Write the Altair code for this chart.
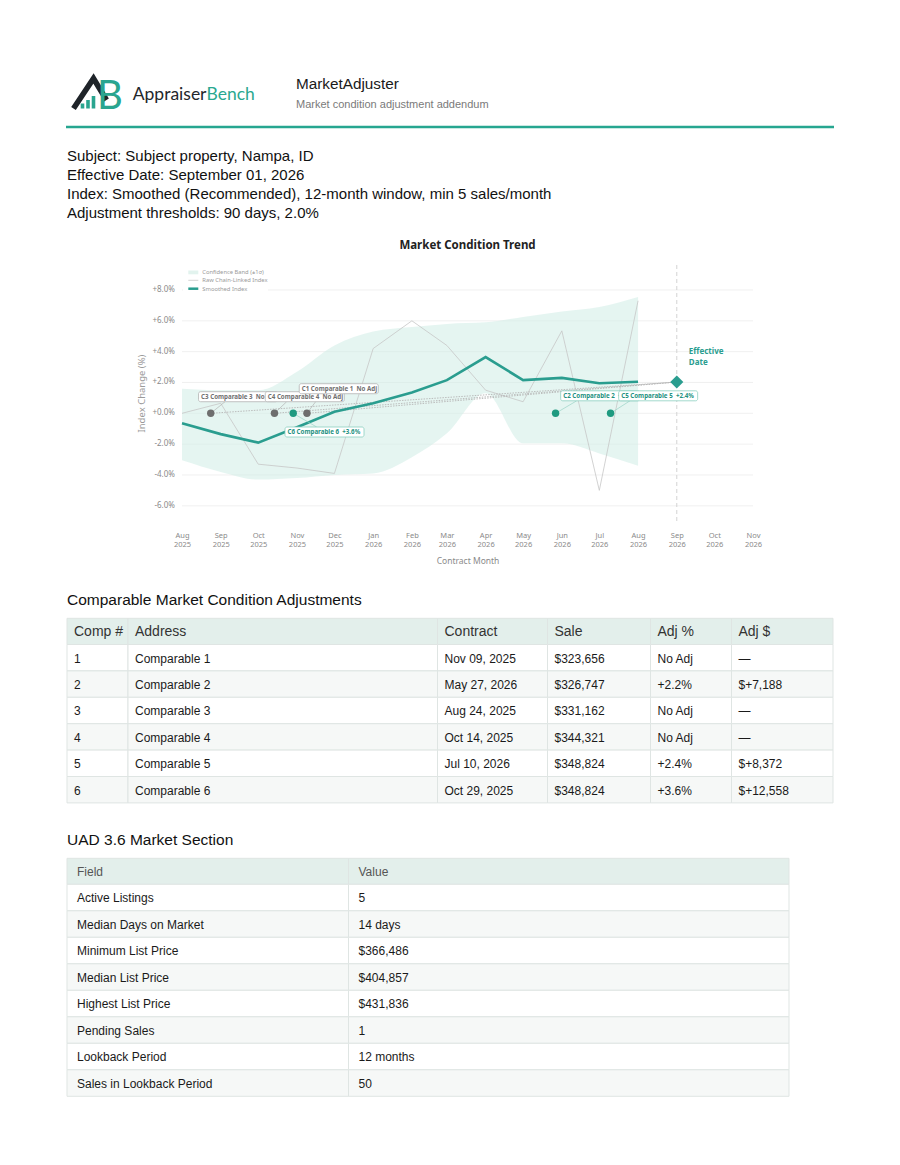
import altair as alt
import pandas as pd

# ---------------- chart data ----------------
MONTHS = ["2025-08-01", "2025-09-01", "2025-10-01", "2025-11-01", "2025-12-01",
          "2026-01-01", "2026-02-01", "2026-03-01", "2026-04-01", "2026-05-01",
          "2026-06-01", "2026-07-01", "2026-08-01"]
SMOOTHED = [-0.65, -1.35, -1.9, -0.9, 0.1, 0.65, 1.35, 2.15, 3.65, 2.15, 2.3, 1.95, 2.05]
RAW = [0.0, 0.65, -3.3, -3.55, -3.9, 4.2, 6.0, 4.4, 1.5, 0.75, 5.35, -5.0, 7.3]
BAND_UP = [1.6, 1.5, 1.5, 2.7, 4.4, 5.3, 5.6, 5.8, 5.9, 6.25, 6.6, 6.9, 7.55]
BAND_LO = [-3.05, -3.8, -4.3, -4.2, -4.0, -3.9, -2.85, -1.3, 1.3, -1.95, -1.95, -2.6, -3.4]

X_TICKS = ["2025-08-01", "2025-09-01", "2025-10-01", "2025-11-01", "2025-12-01",
           "2026-01-01", "2026-02-01", "2026-03-01", "2026-04-01", "2026-05-01",
           "2026-06-01", "2026-07-01", "2026-08-01", "2026-09-01", "2026-10-01",
           "2026-11-01"]
Y_TICKS = [-6, -4, -2, 0, 2, 4, 6, 8]

COMP_NUM = [1, 2, 3, 4, 5, 6]
COMP_ADDR = ["Comparable 1", "Comparable 2", "Comparable 3", "Comparable 4",
             "Comparable 5", "Comparable 6"]
COMP_CONTRACT = ["Nov 09, 2025", "May 27, 2026", "Aug 24, 2025", "Oct 14, 2025",
                 "Jul 10, 2026", "Oct 29, 2025"]
COMP_DATE = ["2025-11-09", "2026-05-27", "2025-08-24", "2025-10-14", "2026-07-10",
             "2025-10-29"]
COMP_SALE = ["$323,656", "$326,747", "$331,162", "$344,321", "$348,824", "$348,824"]
COMP_ADJ_PCT = ["No Adj", "+2.2%", "No Adj", "No Adj", "+2.4%", "+3.6%"]
COMP_ADJ_USD = ["\u2014", "$+7,188", "\u2014", "\u2014", "$+8,372", "$+12,558"]
COMP_INDEX = [0.0, 0.0, 0.0, 0.0, 0.0, 0.0]

EFFECTIVE_DATE = "2026-09-01"
EFFECTIVE_INDEX = 2.03

UAD_FIELDS = ["Active Listings", "Median Days on Market", "Minimum List Price",
              "Median List Price", "Highest List Price", "Pending Sales",
              "Lookback Period", "Sales in Lookback Period"]
UAD_VALUES = ["5", "14 days", "$366,486", "$404,857", "$431,836", "1",
              "12 months", "50"]

INFO_LINES = ["Subject: Subject property, Nampa, ID",
              "Effective Date: September 01, 2026",
              "Index: Smoothed (Recommended), 12-month window, min 5 sales/month",
              "Adjustment thresholds: 90 days, 2.0%"]
T1_HEAD = ["Comp #", "Address", "Contract", "Sale", "Adj %", "Adj $"]
T2_HEAD = ["Field", "Value"]

# ---------------- layout / style ----------------
PAGE_W = 880
P1_H = 257
MAIN_OFF = 174
MAIN_PLOT_W = 571
MAIN_H = 257
P3_H = 590
X_START, X_END = "2025-08-01", "2026-11-01"
Y_DOMAIN = [-7.05, 9.62]

TEAL = "#2a9d8f"
TEAL_PT = "#1f9a80"
GRAY_PT = "#6e6e6e"
CF = "Noto Sans"
PF = "Liberation Sans"

# label boxes relative to their point, in pixels
LABEL_DX = [-7.7, 5.1, -12.2, -9.2, 8.1, -8.2]
LABEL_DY = [-24.6, -17.5, -16.6, -16.6, -17.5, 18.7]
LEADER_DX = [22.4, 16, 26.5, 21.4, 11.3, 31.7]
LABEL_W, LABEL_H = 79, 10


def iso(ts):
    return ts.strftime("%Y-%m-%dT%H:%M:%SZ")


def dt(s):
    t = pd.Timestamp(s)
    return alt.DateTime(year=t.year, month=t.month, date=t.day, utc=True)


t_start, t_end = pd.Timestamp(X_START), pd.Timestamp(X_END)
ppd = MAIN_PLOT_W / (t_end - t_start).days
ppp = MAIN_H / (Y_DOMAIN[1] - Y_DOMAIN[0])

xs = alt.Scale(type="utc", domain=[dt(X_START), dt(X_END)],
               range=[MAIN_OFF, MAIN_OFF + MAIN_PLOT_W])
ys = alt.Scale(domain=Y_DOMAIN, nice=False, zero=False)
x_axis = alt.Axis(values=[dt(m) for m in X_TICKS],
                  labelExpr="[utcFormat(datum.value, '%b'), utcFormat(datum.value, '%Y')]",
                  title="Contract Month", ticks=False, domain=False, grid=False,
                  labelFlush=False, labelOverlap=False, labelPadding=9,
                  labelLineHeight=9, labelFontSize=7.5, labelColor="#8a8a8a",
                  labelFont=CF, titleFont=CF, titleFontSize=8.5,
                  titleFontWeight="normal", titleColor="#8a8a8a", titlePadding=9)


def X(f):
    return alt.X(f, type="temporal", scale=xs, axis=x_axis)


def Y(f):
    return alt.Y(f, type="quantitative", scale=ys, axis=None)


one = pd.DataFrame({"a": [0]})

# ---------------- panel 1: header ----------------
def ptext(s, x, y, **kw):
    kw.setdefault("align", "left")
    kw.setdefault("baseline", "alphabetic")
    return alt.Chart(one).mark_text(text=s, **kw).encode(x=alt.value(x), y=alt.value(y))


NX = alt.X("x:Q", scale=None, axis=None)
NY = alt.Y("y:Q", scale=None, axis=None)

chevron = alt.Chart(pd.DataFrame({"x": [65.5, 85.5, 98.5], "y": [100.5, 70.5, 92.0]})).mark_line(
    color="#1f2429", strokeWidth=5.5, strokeJoin="miter", strokeCap="butt").encode(x=NX, y=NY)
logo_bars = alt.Chart(pd.DataFrame({"x": [72.7, 78.2, 83.7], "x2": [76.3, 81.8, 87.3],
                                    "y": [95.5, 92.0, 88.0], "y2": [100.5, 100.5, 100.5]})).mark_rect(
    color="#2aa58f").encode(x=NX, x2="x2:Q", y=NY, y2="y2:Q")

header_layers = [
    chevron, logo_bars,
    ptext("B", 89, 100.5, font="Lato", fontSize=40, color="#2aa58f"),
    ptext("Appraiser", 198.5, 91.5, align="right", font="Lato", fontSize=17.5, color="#23272b"),
    ptext("Bench", 198.5, 91.5, font="Lato", fontSize=17.5, color="#2aa890"),
    ptext("MarketAdjuster", 288, 81.3, font=PF, fontSize=15.3, color="#1a1a1a"),
    ptext("Market condition adjustment addendum", 288, 99.5, font=PF, fontSize=11, color="#7a7a7a"),
    alt.Chart(one).mark_rule(color="#26a690", strokeWidth=2.5).encode(
        x=alt.value(58), x2=alt.value(826), y=alt.value(119)),
]
for i, line in enumerate(INFO_LINES):
    header_layers.append(ptext(line, 59, 153 + 19 * i, font=PF, fontSize=15, color="#111111"))
header_layers.append(ptext("Market Condition Trend", MAIN_OFF + MAIN_PLOT_W / 2, 241.3,
                           align="center", font=CF, fontSize=11.5, fontWeight="bold",
                           color="#222222"))
panel1 = alt.layer(*header_layers).properties(width=PAGE_W, height=P1_H)

# ---------------- panel 2: main chart ----------------
trend = pd.DataFrame({"date": MONTHS, "smooth": SMOOTHED, "raw": RAW,
                      "lo": BAND_LO, "up": BAND_UP})
grid_df = pd.DataFrame({"t": Y_TICKS, "d0": X_START, "d1": X_END})
eff_df = pd.DataFrame({"date": [EFFECTIVE_DATE], "v": [EFFECTIVE_INDEX]})

rows = []
for i, n in enumerate(COMP_NUM):
    d = pd.Timestamp(COMP_DATE[i])
    v = COMP_INDEX[i]
    adj = COMP_ADJ_PCT[i] != "No Adj"
    left = d + pd.Timedelta(days=LABEL_DX[i] / ppd)
    right = left + pd.Timedelta(days=LABEL_W / ppd)
    cv = v - LABEL_DY[i] / ppp
    top = cv + LABEL_H / 2 / ppp
    bot = cv - LABEL_H / 2 / ppp
    rows.append({
        "num": n, "date": COMP_DATE[i], "idx": v, "adj": adj,
        "eff_date": EFFECTIVE_DATE, "eff_idx": EFFECTIVE_INDEX,
        "label": f"C{n} Comparable {n}\u00a0\u00a0{COMP_ADJ_PCT[i]}",
        "bx0": iso(left), "bx1": iso(right), "by0": bot, "by1": top,
        "tx": iso(left + pd.Timedelta(days=2.5 / ppd)), "ty": cv,
        "lead_x": iso(left + pd.Timedelta(days=LEADER_DX[i] / ppd)),
        "lead_y": bot if LABEL_DY[i] < 0 else top,
        "pt_col": TEAL_PT if adj else GRAY_PT,
        "box_col": "#8ccfc0" if adj else "#b3b3b3",
        "txt_col": "#23917f" if adj else "#6f6f6f",
        "lead_col": "#9ad3c6" if adj else "#b3b3b3",
    })
comps = pd.DataFrame(rows)
noadj = comps[~comps["adj"]]

grid = alt.Chart(grid_df).mark_rule(color="#ececec", strokeWidth=0.8).encode(
    x=X("d0"), x2=alt.X2("d1"), y=Y("t"))
ylab = alt.Chart(grid_df).transform_calculate(
    lab="(datum.t >= 0 ? '+' : '-') + format(abs(datum.t), '.1f') + '%'"
).mark_text(align="right", baseline="middle", font=CF, fontSize=8, color="#8a8a8a").encode(
    x=alt.value(MAIN_OFF - 7), y=Y("t"), text="lab:N")
ytitle = alt.Chart(one).mark_text(text="Index Change (%)", angle=270, font=CF, fontSize=9.5,
                                  color="#9a9a9a", align="center", baseline="middle").encode(
    x=alt.value(133.7), y=alt.value(MAIN_H / 2))
band = alt.Chart(trend).mark_area(interpolate="monotone", color="#cfece5", opacity=0.55).encode(
    x=X("date"), y=Y("lo"), y2=alt.Y2("up"))
raw = alt.Chart(trend).mark_line(color="#c6c6c6", strokeWidth=0.8).encode(x=X("date"), y=Y("raw"))
connectors = alt.Chart(noadj).mark_rule(color="#b5b5b5", strokeDash=[1.5, 1.2], strokeWidth=0.9).encode(
    x=X("date"), y=Y("idx"), x2=alt.X2("eff_date"), y2=alt.Y2("eff_idx"))
smooth = alt.Chart(trend).mark_line(color=TEAL, strokeWidth=2.6).encode(x=X("date"), y=Y("smooth"))
eff_rule = alt.Chart(eff_df).mark_rule(color="#d3d3d3", strokeDash=[4, 3], strokeWidth=1).encode(x=X("date"))
leaders = alt.Chart(comps).mark_rule(strokeWidth=0.7).encode(
    x=X("date"), y=Y("idx"), x2=alt.X2("lead_x"), y2=alt.Y2("lead_y"),
    color=alt.Color("lead_col:N", scale=None))
points = alt.Chart(comps).mark_point(filled=True, size=55, opacity=1, strokeWidth=0).encode(
    x=X("date"), y=Y("idx"), color=alt.Color("pt_col:N", scale=None))

label_layers = []
for n in comps.sort_values("date")["num"]:
    sub = comps[comps["num"] == n]
    label_layers.append(alt.Chart(sub).mark_rect(fill="white", strokeWidth=0.8, cornerRadius=2).encode(
        x=X("bx0"), x2=alt.X2("bx1"), y=Y("by0"), y2=alt.Y2("by1"),
        stroke=alt.Stroke("box_col:N", scale=None)))
    label_layers.append(alt.Chart(sub).mark_text(align="left", baseline="middle", font=CF,
                                                 fontSize=6.2, fontWeight="bold").encode(
        x=X("tx"), y=Y("ty"), text="label:N", color=alt.Color("txt_col:N", scale=None)))

diamond = alt.Chart(eff_df).mark_point(shape="diamond", filled=True, size=170, color=TEAL,
                                       opacity=1, strokeWidth=0).encode(x=X("date"), y=Y("v"))
eff_t1 = alt.Chart(eff_df).mark_text(text="Effective", align="left", baseline="middle", dx=12, dy=-30.4,
                                     font=CF, fontSize=8, fontWeight="bold", color=TEAL).encode(
    x=X("date"), y=Y("v"))
eff_t2 = alt.Chart(eff_df).mark_text(text="Date", align="left", baseline="middle", dx=12, dy=-19.4,
                                     font=CF, fontSize=8, fontWeight="bold", color=TEAL).encode(
    x=X("date"), y=Y("v"))

LG_X = MAIN_OFF + 6.3
legend_layers = [
    alt.Chart(one).mark_rect(fill="white").encode(
        x=alt.value(MAIN_OFF + 1), x2=alt.value(MAIN_OFF + 86), y=alt.value(1), y2=alt.value(28)),
    alt.Chart(one).mark_rect(fill="#e2f3ee").encode(
        x=alt.value(LG_X), x2=alt.value(LG_X + 10), y=alt.value(5.5), y2=alt.value(9.3)),
    alt.Chart(one).mark_rule(color="#c6c6c6", strokeWidth=0.8).encode(
        x=alt.value(LG_X), x2=alt.value(LG_X + 10), y=alt.value(15.3)),
    alt.Chart(one).mark_rule(color=TEAL, strokeWidth=2.5).encode(
        x=alt.value(LG_X), x2=alt.value(LG_X + 10), y=alt.value(23.7)),
]
for lbl, yy in [("Confidence Band (\u00b11\u03c3)", 7.4), ("Raw Chain-Linked Index", 15.3),
                ("Smoothed Index", 23.7)]:
    legend_layers.append(alt.Chart(one).mark_text(text=lbl, align="left", baseline="middle", font=CF,
                                                  fontSize=5.8, color="#9a9a9a").encode(
        x=alt.value(LG_X + 14), y=alt.value(yy)))

panel2 = alt.layer(grid, band, ylab, ytitle, raw, connectors, smooth, eff_rule, leaders, points,
                   *label_layers, diamond, eff_t1, eff_t2, *legend_layers).properties(
    width=MAIN_OFF + MAIN_PLOT_W, height=MAIN_H)

# ---------------- panel 3: tables ----------------
T1_TOP, T1_HEAD_H, T1_ROW_H = 96.3, 26.2, 26.4
T1_EDGES = [59, 120, 429.5, 539.5, 642.5, 723.5, 825]
T2_TOP, T2_HEAD_H, T2_ROW_H = 336.3, 26.0, 26.5
T2_EDGES = [59, 340.5, 781]
HEAD_FILL, ALT_FILL = "#e3efeb", "#f6f8f7"


def table_frames(head, body, top, head_h, row_h, edges, pad, head_fs, head_col, body_fs):
    cells, texts = [], []
    all_rows = [head] + body
    for r, vals in enumerate(all_rows):
        y0 = top if r == 0 else top + head_h + (r - 1) * row_h
        y1 = y0 + (head_h if r == 0 else row_h)
        fill = HEAD_FILL if r == 0 else (ALT_FILL if r % 2 == 0 else "#ffffff")
        for c, val in enumerate(vals):
            cells.append({"x": edges[c], "x2": edges[c + 1], "y": y0, "y2": y1, "fill": fill})
            texts.append({"x": edges[c] + pad, "y": (y0 + y1) / 2 + 0.8, "text": val,
                          "fs": head_fs if r == 0 else body_fs,
                          "col": head_col if r == 0 else "#1a1a1a"})
    return pd.DataFrame(cells), pd.DataFrame(texts)


def table_layers(cells, texts):
    rect = alt.Chart(cells).mark_rect(stroke="#dfe5e3", strokeWidth=1).encode(
        x=NX, x2="x2:Q", y=NY, y2="y2:Q", fill=alt.Fill("fill:N", scale=None))
    txt = alt.Chart(texts).mark_text(align="left", baseline="middle", font=PF).encode(
        x=NX, y=NY, text="text:N", size=alt.Size("fs:Q", scale=None),
        color=alt.Color("col:N", scale=None))
    return [rect, txt]


t1_body = [[str(COMP_NUM[i]), COMP_ADDR[i], COMP_CONTRACT[i], COMP_SALE[i],
            COMP_ADJ_PCT[i], COMP_ADJ_USD[i]] for i in range(len(COMP_NUM))]
t2_body = [[UAD_FIELDS[i], UAD_VALUES[i]] for i in range(len(UAD_FIELDS))]
c1, tx1 = table_frames(T1_HEAD, t1_body, T1_TOP, T1_HEAD_H, T1_ROW_H, T1_EDGES, 7, 14, "#333333", 12)
c2, tx2 = table_frames(T2_HEAD, t2_body, T2_TOP, T2_HEAD_H, T2_ROW_H, T2_EDGES, 10, 12, "#555555", 12)

panel3 = alt.layer(
    ptext("Comparable Market Condition Adjustments", 59, 83, font=PF, fontSize=15.5, color="#111111"),
    *table_layers(c1, tx1),
    ptext("UAD 3.6 Market Section", 59, 322.5, font=PF, fontSize=15.5, color="#111111"),
    *table_layers(c2, tx2),
).properties(width=PAGE_W, height=P3_H)

chart = alt.vconcat(panel1, panel2, panel3, spacing=0, bounds="flush").properties(
    padding=0).configure_view(strokeWidth=0)

chart.save("out.html", embed_options={"renderer": "svg", "actions": False})
